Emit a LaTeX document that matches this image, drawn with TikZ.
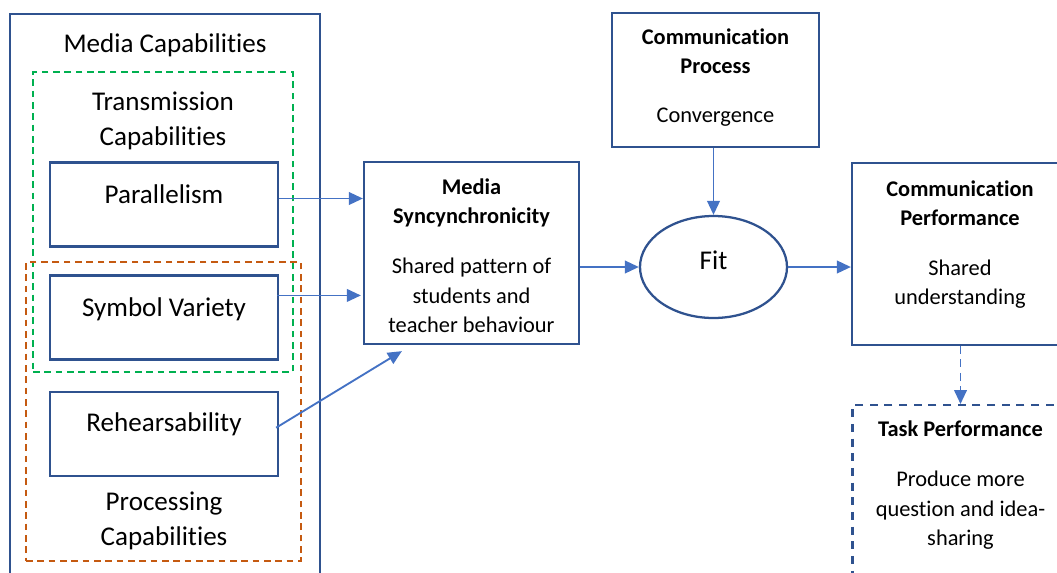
\documentclass[tikz,border=0pt]{standalone}
\usepackage{fontspec}
\setmainfont{Carlito}[Ligatures=CommonOff]
\usepackage{xcolor}
\usepackage{tikz}
\usetikzlibrary{shapes.geometric, arrows.meta, positioning, calc}

\definecolor{boxblue}{HTML}{2F528F}
\definecolor{arrowblue}{HTML}{4472C4}
\definecolor{dashgreen}{HTML}{00B050}
\definecolor{dashorange}{HTML}{C55A11}

\newcommand{\diagbig}{\fontsize{20.3}{26.2}\selectfont}
\newcommand{\diagsmall}{\fontsize{16.8}{22.2}\selectfont}

\begin{document}
\begin{tikzpicture}[x=0.75pt, y=-0.75pt, every node/.style={inner sep=0pt}]
    \tikzstyle{outerbox} = [rectangle, draw=boxblue, line width=1.7pt]
    \tikzstyle{groupbox} = [rectangle, draw, line width=1.6pt, dash pattern=on 5pt off 3.5pt]
    \tikzstyle{grouptitle} = [align=center, font=\diagbig]
    \tikzstyle{capbox} = [rectangle, draw=boxblue, line width=1.7pt, minimum width=171pt, minimum height=63pt, text height=14pt, text depth=15pt, font=\diagbig]
    \tikzstyle{concept} = [rectangle, draw=boxblue, line width=1.7pt, align=center, font=\diagsmall]
    \tikzstyle{oval} = [ellipse, draw=boxblue, line width=1.7pt, minimum width=110.25pt, minimum height=76.5pt, text height=14pt, text depth=10pt, font=\diagbig]
    \tikzstyle{line} = [draw=arrowblue, line width=1.4pt, -{Triangle[length=10.5pt, width=9.5pt]}]

    \path [use as bounding box, clip] (0,0) rectangle (1057,572);

    % media capabilities column
    \node [outerbox, minimum width=232.5pt, minimum height=439.5pt] (media) at (165,307) {};
    \node [grouptitle] (mediatitle) at (165,45) {Media Capabilities};
    \node [groupbox, draw=dashgreen, minimum width=195pt, minimum height=225pt] (trans) at (163,222) {};
    \node [grouptitle] (transtitle) at (163,120.5) {Transmission\\Capabilities};
    \node [groupbox, draw=dashorange, minimum width=206.25pt, minimum height=224.25pt] (proc) at (163.5,411.5) {};
    \node [grouptitle] (proctitle) at (164,520.5) {Processing\\Capabilities};
    \node [capbox] (par) at (164,204.5) {Parallelism};
    \node [capbox, below=20pt of par] (sym) {Symbol Variety};
    \node [capbox, below=22.5pt of sym, text depth=17pt] (reh) {Rehearsability};

    % model
    \node [concept, minimum width=161.25pt, minimum height=136.5pt] (msync) at (471.5,253) {\rule{0pt}{16pt}\textbf{Media}\\\textbf{Syncynchronicity}\\[15pt]Shared pattern of\\students and\\teacher behaviour};
    \node [concept, minimum width=155.25pt, minimum height=100.5pt, text depth=6.5pt] (cproc) at (715.5,80) {\textbf{Communication}\\\textbf{Process}\\[14.5pt]Convergence};
    \node [oval] (fit) at (713.5,267) {Fit};
    \node [concept, minimum width=162pt, minimum height=136.5pt, text depth=17pt] (cperf) at (960,254) {\textbf{Communication}\\\textbf{Performance}\\[15pt]Shared\\understanding};
    \node [concept, dash pattern=on 6pt off 5pt, minimum width=162pt, anchor=north, inner ysep=11.5pt, inner xsep=4pt, text depth=40pt] (task) at (960.5,404) {\textbf{Task Performance}\\[15.5pt]Produce more\\question and idea-\\sharing};

    \path [line] ($(par.east)+(0,-6)$) -- ($(par.east -| msync.west)+(0,-6)$);
    \path [line] ($(sym.east)+(-2,-22)$) -- ($(sym.east -| msync.west)+(-2,-22)$);
    \path [line] ($(reh.east)+(-3,-6)$) -- ($(msync.south west)+(39,6)$);
    \path [line] (fit.west -| msync.east) -- (fit.west);
    \path [line] (cproc.south -| fit.north) -- (fit.north);
    \path [line] (fit.east) -- (fit.east -| cperf.west);
    \path [line, dash pattern=on 6pt off 4pt] (cperf.south -| task.north) -- (task.north);
\end{tikzpicture}
\end{document}
